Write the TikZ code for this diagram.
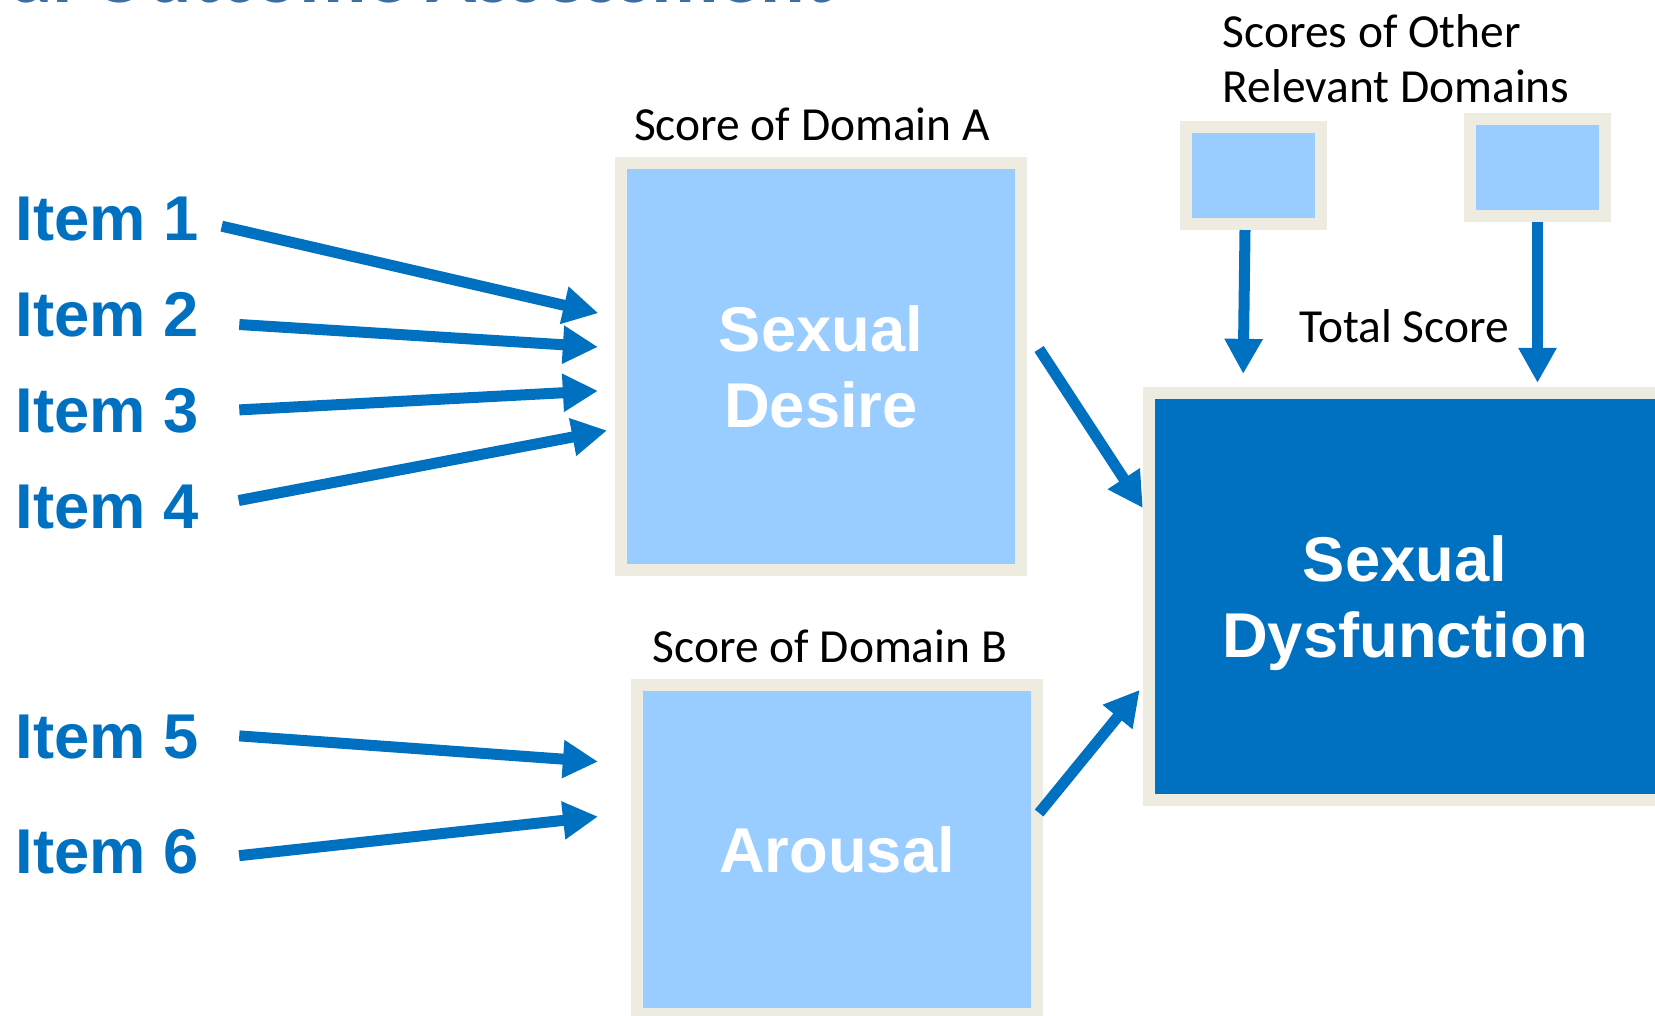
\documentclass[tikz,border=0pt]{standalone}
\usepackage{fontspec}
\setmainfont{Liberation Sans}
\newfontfamily\calibri{Carlito}
\usetikzlibrary{arrows.meta,calc,backgrounds}

\definecolor{darkblue}{HTML}{0070C0}
\definecolor{lightblue}{HTML}{99CCFF}
\definecolor{tan}{HTML}{EEECE1}
\definecolor{titleblue}{HTML}{3A6EA5}

\begin{document}
\begin{tikzpicture}[x=0.01cm,y=-0.01cm]
  \tikzstyle{itemlabel}=[anchor=base west,inner sep=0pt,text=darkblue,font=\fontsize{18}{21.6}\selectfont\bfseries]
  \tikzstyle{domainbox}=[draw=tan,line width=1.2mm,fill=lightblue,text=white,align=center,inner sep=0pt,text depth=0pt,font=\fontsize{18}{21.6}\selectfont\bfseries]
  \tikzstyle{totalbox}=[domainbox,fill=darkblue]
  \tikzstyle{otherbox}=[domainbox,minimum width=1.35cm,minimum height=0.97cm]
  \tikzstyle{scorelabel}=[anchor=base,inner sep=0pt,font=\calibri\fontsize{13.5}{15.6}\selectfont]
  \tikzstyle{arrow}=[draw=darkblue,line width=1.1mm,-{Triangle[length=3.5mm,width=3.6mm]}]

  \useasboundingbox (0,0) rectangle (1655,1015);

  % Title, cut off by the top edge
  \node[anchor=base east,inner sep=0pt,text=titleblue,font=\calibri\fontsize{23.6}{28}\selectfont\bfseries] (title) at (834,2) {al Outcome Assessment};

  % Define the items
  \foreach \i/\y in {1/240,2/336,3/432,4/528,5/758,6/873} {
    \node[itemlabel] (item\i) at (15,\y) {Item \i};
  }

  % Define the domain boxes
  \node[domainbox,minimum width=4cm,minimum height=4.07cm] (desire) at (821,366.5) {Sexual\\Desire};
  \node[domainbox,minimum width=4cm,minimum height=3.29cm] (arousal) at (837,849.5) {Arousal};
  \node[totalbox,minimum width=5.12cm,minimum height=4.07cm] (dysfunction) at (1405,596.5) {Sexual\\Dysfunction};
  \node[otherbox] (otherA) at (1253.5,175.5) {};
  \node[otherbox] (otherB) at (1537.5,167.5) {};

  % Score labels
  \node[scorelabel] (labelA) at (812,140) {Score of Domain A};
  \node[scorelabel] (labelB) at (830,662) {Score of Domain B};
  \node[scorelabel] (labelTotal) at (1404,342) {Total Score};
  \node[scorelabel,anchor=base west,align=left] (labelOther) at (1222,102) {Scores of Other\\Relevant Domains};

  % Items to domains
  \foreach \i/\a/\b/\s/\t in {1/221/317/2.3/1.7, 2/322/348/4/1.7, 3/412/390/4/1.7, 4/508/429/4/0.8} {
    \draw[arrow,shorten <=\s mm,shorten >=\t mm] (item\i.east |- 0,\a) -- (desire.west |- 0,\b);
  }
  \foreach \i/\a/\b in {5/733/764, 6/860/813} {
    \draw[arrow,shorten <=4mm,shorten >=3.3mm] (item\i.east |- 0,\a) -- (arousal.west |- 0,\b);
  }

  % Domains to total score
  \begin{scope}[on background layer]
    \draw[arrow] ($(desire.east |- 0,349)+(12,0)$) -- (dysfunction.west |- 0,508);
  \end{scope}
  \draw[arrow,shorten >=0.5mm] ($(arousal.east |- 0,813)+(-4,0)$) -- (dysfunction.west |- 0,686);
  \draw[arrow,shorten >=1.3mm] (otherA.south -| 1245,0) -- (dysfunction.north -| 1243,0);
  \draw[arrow,shorten >=0.4mm] (otherB.south) -- (dysfunction.north -| otherB.south);
\end{tikzpicture}
\end{document}
